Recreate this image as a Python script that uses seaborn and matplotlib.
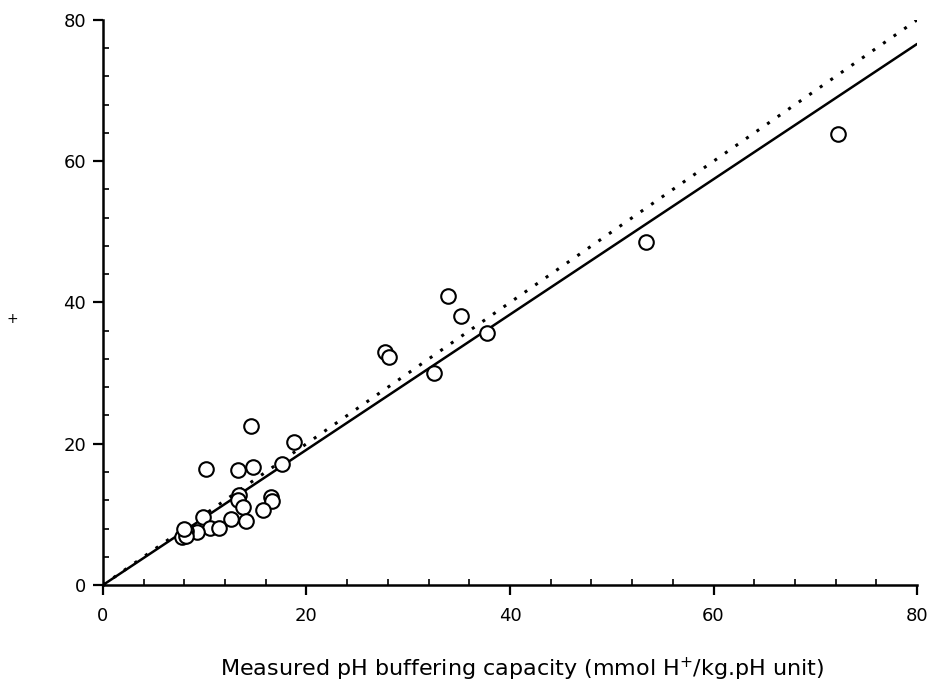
import numpy as np
import pandas as pd
import matplotlib
matplotlib.use("Agg")
import matplotlib.pyplot as plt
import seaborn as sns
from matplotlib.ticker import MultipleLocator

# measured vs predicted pH buffering capacity
measured = [72.2, 53.4, 33.9, 35.2, 37.7, 27.7, 28.1, 32.5,
            14.5, 18.8, 10.1, 13.3, 14.7, 17.6, 13.4, 13.3, 13.8,
            16.5, 16.6, 15.7, 14.1, 12.6, 9.8, 10.5, 11.4, 9.2,
            8.2, 7.8, 8.2, 8.0]
predicted = [63.9, 48.6, 40.9, 38.1, 35.7, 33.0, 32.3, 30.0,
             22.5, 20.3, 16.4, 16.3, 16.7, 17.2, 12.7, 12.0, 11.0,
             12.4, 11.9, 10.6, 9.1, 9.3, 9.6, 8.1, 8.1, 7.5,
             7.7, 6.8, 7.0, 8.0]

# regression line and 1:1 line
fit_x = [0, 80]
fit_y = [0, 76.6]
one_x = [0, 80]
one_y = [0, 80]

df = pd.DataFrame({"measured": measured, "predicted": predicted})

sns.set_style("ticks")
plt.rcParams['font.family'] = ['DejaVu Sans']
plt.rcParams['text.color'] = 'black'
plt.rcParams['axes.labelcolor'] = 'black'

fig = plt.figure(figsize=(9.31, 6.88), dpi=100)
ax = fig.add_axes([0.1106, 0.1497, 0.8744, 0.8213])

sns.lineplot(x=one_x, y=one_y, ax=ax, color='black', linestyle=(0, (1, 3.2)),
             linewidth=2.2)
sns.lineplot(x=fit_x, y=fit_y, ax=ax, color='black', linewidth=1.8)
sns.scatterplot(data=df, x="measured", y="predicted", ax=ax, marker='o',
                s=110, facecolor='white', edgecolor='black', linewidth=1.5,
                zorder=3)

ax.set_xlim(0, 80)
ax.set_ylim(0, 80)
ax.xaxis.set_major_locator(MultipleLocator(20))
ax.yaxis.set_major_locator(MultipleLocator(20))
ax.xaxis.set_minor_locator(MultipleLocator(4))
ax.yaxis.set_minor_locator(MultipleLocator(4))
ax.tick_params(which='major', direction='out', length=7, width=1.6,
               labelsize=13, colors='black')
ax.tick_params(axis='x', which='major', pad=9)
ax.tick_params(axis='y', which='major', pad=5)
ax.tick_params(which='minor', direction='in', length=4, width=1.2,
               colors='black')

for side in ['top', 'right']:
    ax.spines[side].set_visible(False)
for side in ['left', 'bottom']:
    ax.spines[side].set_linewidth(1.8)
    ax.spines[side].set_color('black')

ax.set_xlabel("Measured pH buffering capacity (mmol H$^{+}$/kg.pH unit)",
              fontsize=16, labelpad=22, color='black')
ax.xaxis.label.set_x(0.515)
ax.set_ylabel("")
fig.text(0.013, 0.537, "+", fontsize=10, ha='center', va='center',
         color='black')

fig.savefig("out.png", dpi=100)
